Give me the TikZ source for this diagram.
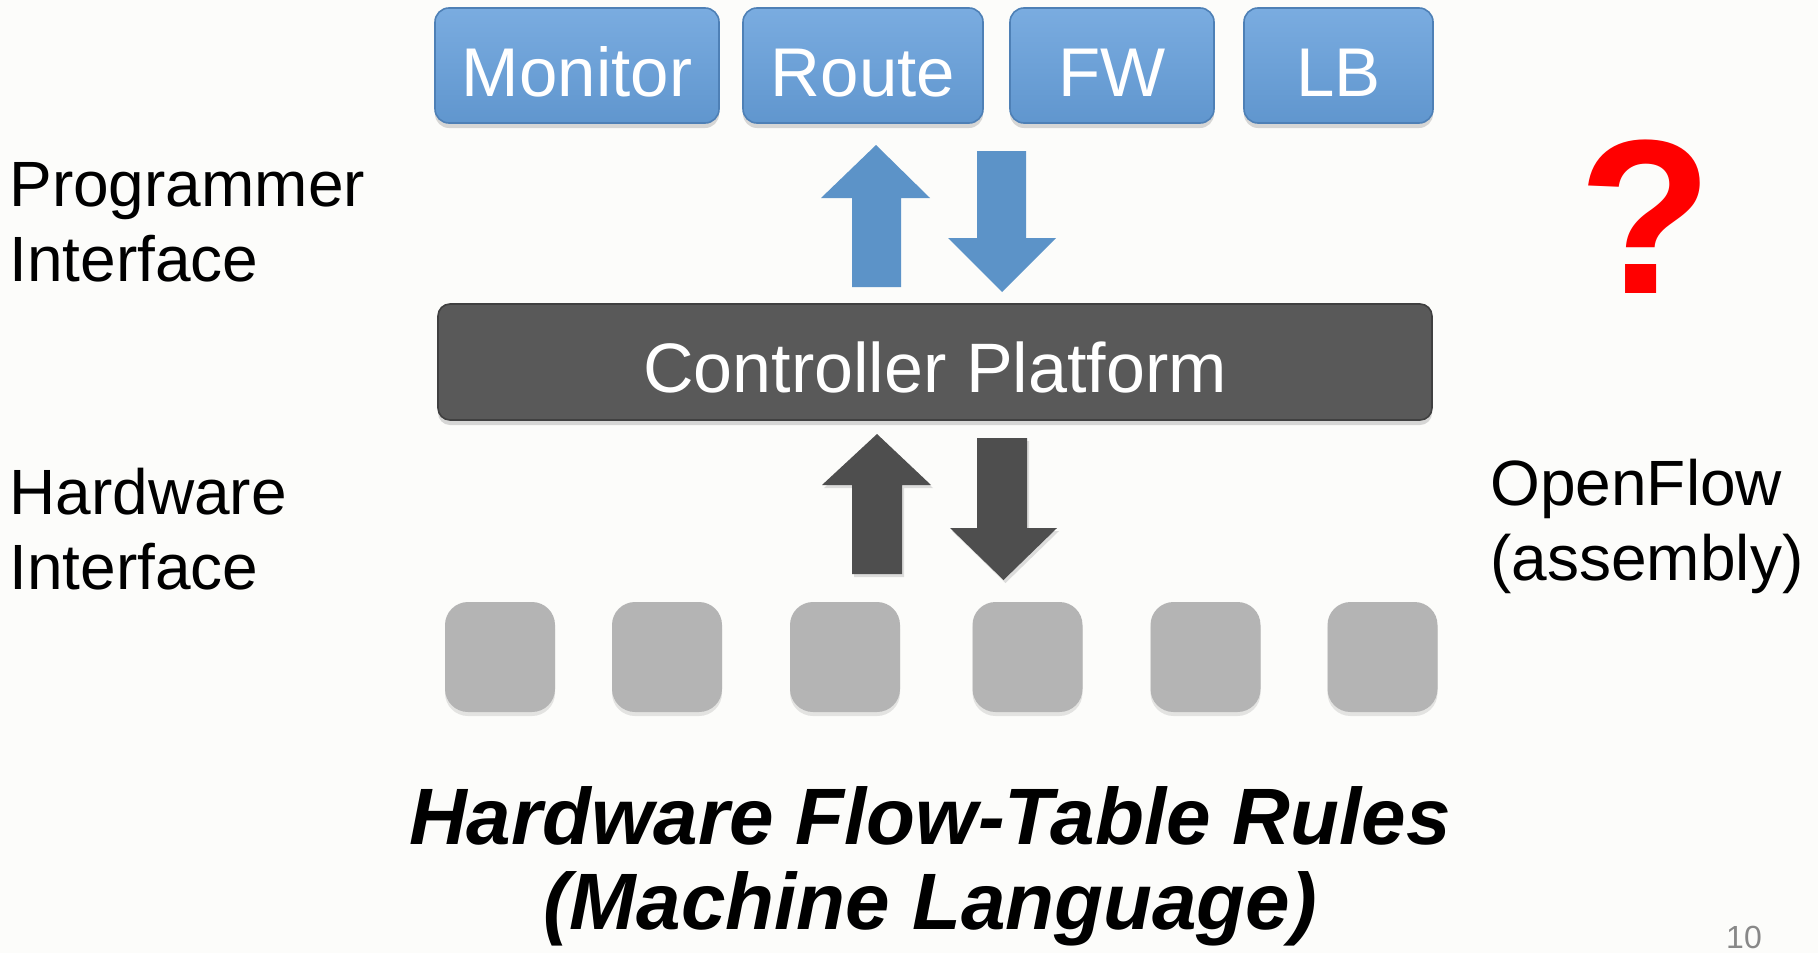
\documentclass[tikz,border=0pt]{standalone}
\usepackage{fontspec}
\setmainfont{Liberation Sans}
\usetikzlibrary{shadows}

\definecolor{bg}{RGB}{252,252,250}
\definecolor{apptop}{RGB}{122,172,224}
\definecolor{appbot}{RGB}{96,150,206}
\definecolor{appedge}{RGB}{78,128,182}
\definecolor{arrowblue}{RGB}{92,147,200}
\definecolor{ctrlfill}{RGB}{89,89,89}
\definecolor{ctrledge}{RGB}{64,64,64}
\definecolor{arrowdark}{RGB}{78,78,78}
\definecolor{swgray}{RGB}{180,180,180}
\definecolor{qred}{RGB}{255,0,0}
\definecolor{pagenum}{RGB}{136,136,136}

\tikzset{
  appbox/.style={rounded corners=7pt, draw=appedge, line width=0.8pt,
    top color=apptop, bottom color=appbot, text=white, inner sep=0pt,
    font=\fontsize{34.5pt}{40pt}\selectfont, minimum height=57.5pt,
    text height=30.5pt, text depth=0pt,
    drop shadow={opacity=0.3, shadow xshift=0pt, shadow yshift=-2.5pt}},
  ctrlbox/.style={rounded corners=6pt, draw=ctrledge, line width=0.8pt,
    fill=ctrlfill, text=white, inner sep=0pt,
    font=\fontsize{35pt}{40pt}\selectfont, minimum width=497pt, minimum height=58pt,
    text height=30pt, text depth=0pt,
    drop shadow={opacity=0.3, shadow xshift=0pt, shadow yshift=-2.5pt}},
  switchbox/.style={rounded corners=11.5pt, fill=swgray, inner sep=0pt,
    minimum width=55pt, minimum height=55pt,
    drop shadow={opacity=0.2, shadow xshift=0pt, shadow yshift=-2pt}},
  sidetext/.style={anchor=base west, align=left, inner sep=0pt,
    font=\fontsize{32pt}{37.5pt}\selectfont},
  blockblue/.style={fill=arrowblue},
  blockdark/.style={fill=arrowdark,
    drop shadow={opacity=0.25, shadow xshift=1pt, shadow yshift=-1.5pt}},
}

\begin{document}
\begin{tikzpicture}[x=0.5pt,y=-0.5pt]
\useasboundingbox[fill=bg] (0,0) rectangle (1818,953);

% applications
\node[appbox, minimum width=142pt] (monitor) at (577,65.5) {Monitor};
\node[appbox, minimum width=120pt] (route)   at (863,65.5) {Route};
\node[appbox, minimum width=102pt] (fw)      at (1112,65.5) {FW};
\node[appbox, minimum width=94.5pt] (lb)     at (1338.5,65.5) {LB};

% northbound interface arrows
\fill[blockblue] (852,287) -- (852,198) -- (821,198) -- (876,145)
  -- (930,198) -- (901,198) -- (901,287) -- cycle;
\fill[blockblue] (977,151) -- (977,238) -- (948,238) -- (1002,292)
  -- (1056,238) -- (1026,238) -- (1026,151) -- cycle;

% controller
\node[ctrlbox] (ctrl) at (935,362) {Controller Platform};

% southbound interface arrows
\fill[blockdark] (852,574) -- (852,485) -- (822,485) -- (877,434)
  -- (931,485) -- (902,485) -- (902,574) -- cycle;
\fill[blockdark] (977,438) -- (977,528) -- (950,528) -- (1003.5,580)
  -- (1057,528) -- (1027,528) -- (1027,438) -- cycle;

% switches
\node[switchbox] (sw1) at (500,657) {};
\node[switchbox] (sw2) at (667,657) {};
\node[switchbox] (sw3) at (845,657) {};
\node[switchbox] (sw4) at (1027.5,657) {};
\node[switchbox] (sw5) at (1205.5,657) {};
\node[switchbox] (sw6) at (1382.5,657) {};

% side labels (anchored at the baseline of their last line)
\node[sidetext] (progif) at (9,281) {Programmer\\Interface};
\node[sidetext] (hwif)   at (9,589) {Hardware\\Interface};
\node[sidetext] (of)     at (1490,580) {OpenFlow\\(assembly)};

\node[anchor=base, inner sep=0pt, text=qred,
  font=\bfseries\fontsize{110pt}{115pt}\selectfont] (qmark) at (1646,293) {?};

% bottom caption
\node[anchor=base, align=center, inner sep=0pt,
  font=\bfseries\itshape\fontsize{40pt}{42.5pt}\selectfont] (rules) at (930,929)
  {Hardware Flow-Table Rules\\(Machine Language)};

\node[anchor=base, inner sep=0pt, text=pagenum,
  font=\fontsize{16pt}{18pt}\selectfont] (page) at (1744,948) {10};
\end{tikzpicture}
\end{document}
